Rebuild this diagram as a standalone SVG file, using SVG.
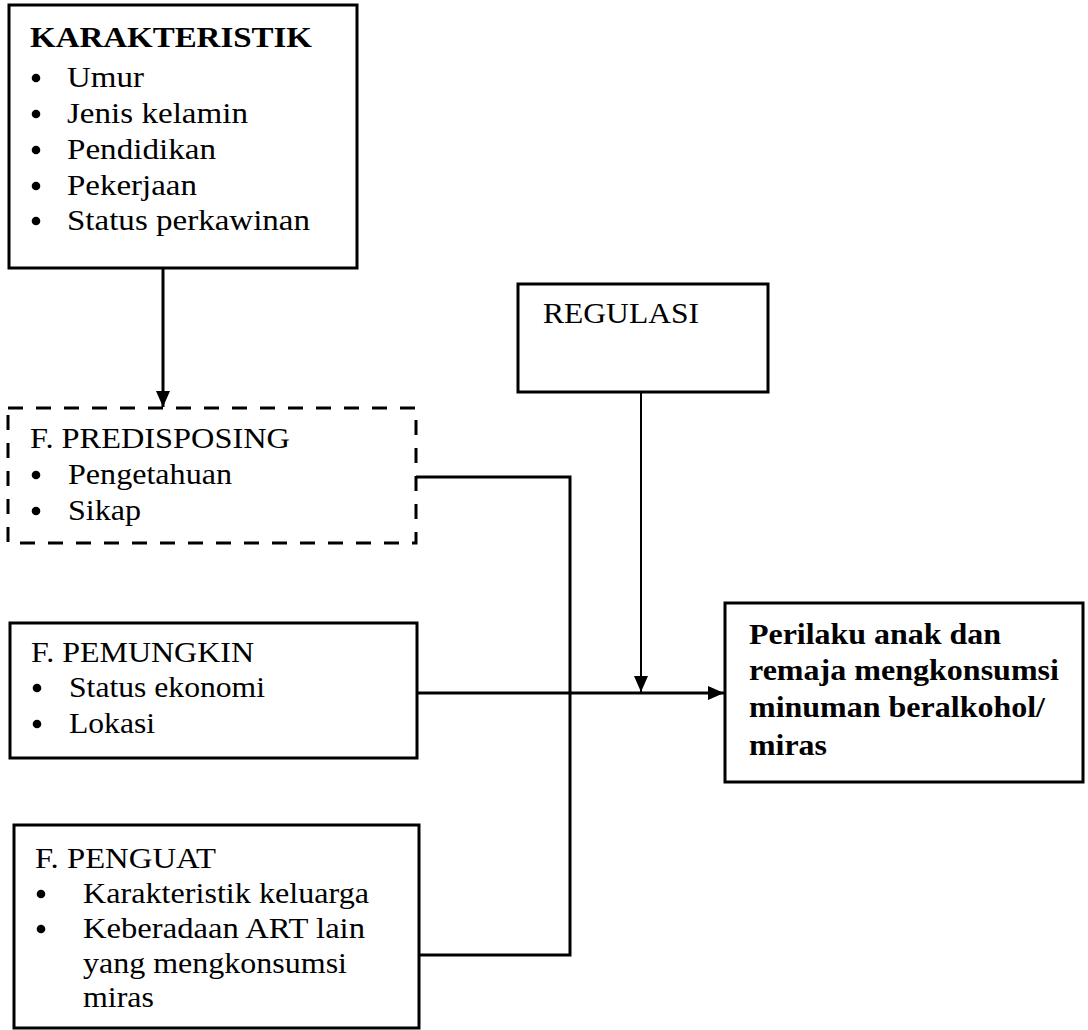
<svg xmlns="http://www.w3.org/2000/svg" width="1088" height="1030" viewBox="0 0 1088 1030">
<style>
.box{fill:#fff;stroke:#000;stroke-width:3}
.dash{fill:none;stroke:#000;stroke-width:3;stroke-dasharray:15 13}
.t{font-family:"Liberation Serif","Times New Roman",serif;font-size:29px;fill:#000}
.b{font-weight:bold}
.line{fill:none;stroke:#000;stroke-width:3}
.thin{fill:none;stroke:#000;stroke-width:2}
</style>
<defs>
<marker id="ah" viewBox="0 0 16 14" refX="16" refY="7" markerWidth="16" markerHeight="14" orient="auto" markerUnits="userSpaceOnUse">
<path d="M0,0 L16,7 L0,14 Z" fill="#000"/>
</marker>
</defs>
<g id="karakteristik">
<rect class="box" x="9" y="5" width="348" height="263"/>
<text class="t b" x="30" y="47" textLength="282" lengthAdjust="spacingAndGlyphs">KARAKTERISTIK</text>
<circle cx="36" cy="78" r="4.3"/><text class="t" x="67" y="87" textLength="77" lengthAdjust="spacingAndGlyphs">Umur</text>
<circle cx="36" cy="114" r="4.3"/><text class="t" x="67" y="123" textLength="181" lengthAdjust="spacingAndGlyphs">Jenis kelamin</text>
<circle cx="36" cy="150" r="4.3"/><text class="t" x="67" y="159" textLength="149" lengthAdjust="spacingAndGlyphs">Pendidikan</text>
<circle cx="36" cy="186" r="4.3"/><text class="t" x="67" y="195" textLength="130" lengthAdjust="spacingAndGlyphs">Pekerjaan</text>
<circle cx="36" cy="221" r="4.3"/><text class="t" x="67" y="230" textLength="243" lengthAdjust="spacingAndGlyphs">Status perkawinan</text>
</g>
<g id="regulasi">
<rect class="box" x="518" y="284" width="250" height="108"/>
<text class="t" x="543" y="323" textLength="156" lengthAdjust="spacingAndGlyphs">REGULASI</text>
</g>
<g id="predisposing">
<rect class="dash" x="8" y="408" width="408" height="135"/>
<text class="t" x="30" y="448" textLength="260" lengthAdjust="spacingAndGlyphs">F. PREDISPOSING</text>
<circle cx="36" cy="475" r="4.3"/><text class="t" x="68" y="484" textLength="164" lengthAdjust="spacingAndGlyphs">Pengetahuan</text>
<circle cx="36" cy="511" r="4.3"/><text class="t" x="68" y="520" textLength="73" lengthAdjust="spacingAndGlyphs">Sikap</text>
</g>
<g id="pemungkin">
<rect class="box" x="10" y="623" width="407" height="135"/>
<text class="t" x="31" y="662" textLength="223" lengthAdjust="spacingAndGlyphs">F. PEMUNGKIN</text>
<circle cx="37" cy="688" r="4.3"/><text class="t" x="69" y="697" textLength="196" lengthAdjust="spacingAndGlyphs">Status ekonomi</text>
<circle cx="37" cy="724" r="4.3"/><text class="t" x="69" y="733" textLength="86" lengthAdjust="spacingAndGlyphs">Lokasi</text>
</g>
<g id="penguat">
<rect class="box" x="14" y="825" width="405" height="203"/>
<text class="t" x="35" y="868" textLength="181" lengthAdjust="spacingAndGlyphs">F. PENGUAT</text>
<circle cx="41" cy="894" r="4.3"/><text class="t" x="83" y="903" textLength="286" lengthAdjust="spacingAndGlyphs">Karakteristik keluarga</text>
<circle cx="41" cy="929" r="4.3"/><text class="t" x="83" y="938" textLength="282" lengthAdjust="spacingAndGlyphs">Keberadaan ART lain</text>
<text class="t" x="83" y="973" textLength="264" lengthAdjust="spacingAndGlyphs">yang mengkonsumsi</text>
<text class="t" x="83" y="1007" textLength="71" lengthAdjust="spacingAndGlyphs">miras</text>
</g>
<g id="perilaku">
<rect class="box" x="725" y="603" width="358" height="179"/>
<text class="t b" x="749" y="644" textLength="252" lengthAdjust="spacingAndGlyphs">Perilaku anak dan</text>
<text class="t b" x="749" y="680" textLength="310" lengthAdjust="spacingAndGlyphs">remaja mengkonsumsi</text>
<text class="t b" x="749" y="717" textLength="296" lengthAdjust="spacingAndGlyphs">minuman beralkohol/</text>
<text class="t b" x="749" y="755" textLength="78" lengthAdjust="spacingAndGlyphs">miras</text>
</g>
<g id="connectors">
<line class="line" x1="163" y1="268" x2="163" y2="407" marker-end="url(#ah)"/>
<polyline class="line" points="416,477 570,477 570,955 419,955"/>
<line class="line" x1="417" y1="693" x2="724" y2="693" marker-end="url(#ah)"/>
<line class="thin" x1="641" y1="392" x2="641" y2="692" marker-end="url(#ah)"/>
</g>
</svg>
